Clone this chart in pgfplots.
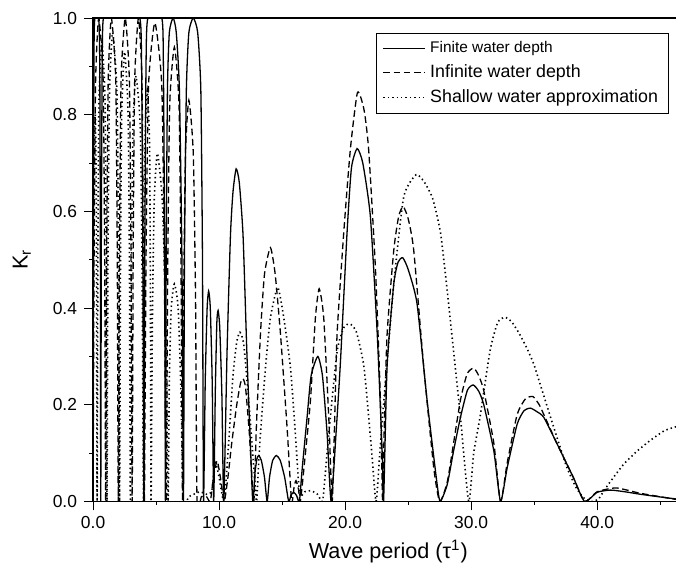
\documentclass[border=0pt]{standalone}
\usepackage{fontspec}
\setmainfont{Liberation Sans}
\usepackage{pgfplots}
\pgfplotsset{compat=1.18}
\begin{document}
\begin{tikzpicture}
\begin{axis}[
  at={(0,0)}, anchor=south west,
  scale only axis, width=291.5pt, height=241.5pt,
  xmin=0, xmax=46.3, ymin=0, ymax=1,
  xtick={0,10,20,30,40}, minor xtick={5,15,25,35,45},
  ytick={0,0.2,0.4,0.6,0.8,1}, minor ytick={0.1,0.3,0.5,0.7,0.9},
  tick align=outside, xtick pos=left, ytick pos=left,
  major tick length=4.5pt, minor tick length=1.8pt,
  tick style={black, line width=0.5pt},
  axis line style={black, line width=0.6pt},
  xticklabel style={yshift=-1.5pt, inner sep=1pt, /pgf/number format/.cd, fixed, fixed zerofill, precision=1, assume math mode=true},
  yticklabel style={/pgf/number format/.cd, fixed, fixed zerofill, precision=1, assume math mode=true},
  tick label style={font=\fontsize{8.7}{10}\selectfont},
  xlabel={Wave period (τ\textsuperscript{1})},
  ylabel={K\textsubscript{r}},
  label style={font=\fontsize{10.8}{12}\selectfont},
  xlabel style={at={(axis description cs:0.506,0)}, anchor=center, yshift=-25pt, inner sep=1pt},
  ylabel style={at={(axis description cs:-0.122,0.5)}, anchor=center, rotate=0},
  legend style={at={(0.485,0.969)}, anchor=north west, draw=black, line width=0.5pt,
    inner xsep=3pt, inner ysep=2pt, row sep=0.5pt},
  legend cell align=left,
  legend image code/.code={\draw[#1] (2pt,0pt) -- (23pt,0pt);},
  every axis plot/.append style={line width=0.65pt, black, smooth, tension=0.35},
]
\addplot[solid] coordinates {
(0,0)(0.03,0.6)(0.08,0.95)(0.15,1)(0.45,1)(0.53,0.9)(0.58,0.5)(0.61,0)(0.65,0.5)(0.72,0.9)(0.82,1)(1.5,1)(2.5,1)(3.7,1)(3.85,0.9)(3.95,0.5)(4.03,0)(4.1,0.5)(4.2,0.9)(4.35,1)(5.45,1)(5.58,0.9)(5.68,0.5)(5.74,0)(5.8,0.5)(5.9,0.85)(6.05,0.97)(6.35,1.0)(6.6,0.97)(6.85,0.85)(7.05,0.5)(7.17,0)(7.25,0.5)(7.4,0.85)(7.6,0.97)(7.95,1)(8.3,0.97)(8.55,0.85)(8.68,0.5)(8.76,0)
(8.9,0.25)(9.05,0.4)(9.17,0.435)(9.3,0.4)(9.45,0.25)(9.57,0)(9.7,0.23)(9.82,0.37)(9.92,0.395)(10.05,0.36)(10.22,0.22)(10.37,0)(10.63,0.31)(10.9,0.55)(11.1,0.64)(11.35,0.688)(11.6,0.66)(11.9,0.55)(12.2,0.31)(12.45,0.14)(12.67,0)(12.85,0.06)(13.0,0.088)(13.14,0.095)(13.35,0.085)(13.6,0.05)(13.81,0)(14.0,0.05)(14.25,0.085)(14.55,0.095)(14.85,0.085)(15.2,0.05)(15.52,0)(15.7,0.013)(15.92,0.019)(16.15,0.012)(16.37,0)(16.6,0.07)(16.98,0.174)(17.3,0.26)(17.83,0.3)(18.2,0.26)(18.57,0.14)(18.89,0)(19.3,0.15)(19.63,0.29)(20.16,0.56)(20.5,0.69)(20.95,0.73)(21.4,0.7)(22.0,0.59)(22.54,0.35)(22.94,0.1)(23.05,0)(23.33,0.28)(23.86,0.45)(24.2,0.495)(24.57,0.504)(25.0,0.48)(25.7,0.41)(26.5,0.21)(27.3,0.035)(27.55,0)(28.1,0.035)(28.6,0.104)(29.15,0.174)(29.7,0.23)(30.16,0.241)(30.6,0.228)(31.0,0.2)(31.8,0.104)(32.33,0)(32.86,0.07)(33.65,0.16)(34.2,0.188)(34.7,0.193)(35.2,0.186)(35.76,0.174)(36.8,0.12)(38.1,0.05)(39.0,0)(40.0,0.019)(41.06,0.0235)(42.2,0.02)(43.4,0.015)(44.8,0.01)(46.3,0.005)
};
\addlegendentry{\fontsize{7.7}{9}\selectfont Finite water depth}
\addplot[dash pattern=on 3.3pt off 1.8pt] coordinates {
(0,0)(0.08,0.5)(0.2,0.87)(0.45,1)(0.8,0.87)(0.92,0.5)(1.0,0)(1.08,0.5)(1.2,0.87)(1.45,1)(1.8,0.87)(1.92,0.5)(2.0,0)(2.09,0.5)(2.22,0.87)(2.55,1)(2.88,0.87)(3.01,0.5)(3.1,0)(3.18,0.5)(3.3,0.87)(3.6,1)(3.88,0.87)(3.99,0.5)(4.07,0)(4.2,0.5)(4.4,0.86)(4.9,0.99)(5.45,0.86)(5.65,0.5)(5.8,0)(5.92,0.47)(6.08,0.82)(6.45,0.94)(6.82,0.82)(6.98,0.47)(7.1,0)(7.19,0.42)(7.33,0.72)(7.6,0.83)(7.95,0.72)(8.13,0.42)(8.25,0)
(8.6,0.01)(9.0,0.01)(9.3,0)(9.55,0.05)(9.84,0.084)(10.1,0.05)(10.4,0)(10.7,0.05)(11.0,0.12)(11.4,0.2)(11.7,0.245)(11.9,0.254)(12.1,0.235)(12.4,0.14)(12.75,0)(12.95,0.15)(13.28,0.346)(13.6,0.47)(14.07,0.525)(14.45,0.47)(14.87,0.346)(15.4,0.15)(15.75,0)(15.95,0.03)(16.1,0.043)(16.3,0.025)(16.45,0)(16.85,0.1)(17.25,0.21)(17.64,0.38)(17.94,0.44)(18.3,0.38)(18.7,0.174)(18.97,0)(19.15,0.15)(19.36,0.346)(19.9,0.56)(20.42,0.73)(20.98,0.846)(21.5,0.81)(21.87,0.726)(22.4,0.484)(22.8,0.21)(22.97,0)(23.1,0.15)(23.33,0.346)(23.86,0.52)(24.25,0.59)(24.6,0.61)(25.0,0.585)(25.44,0.52)(26.24,0.277)(27.03,0.07)(27.5,0)(28.1,0.04)(28.6,0.12)(29.15,0.21)(29.68,0.264)(30.2,0.276)(30.6,0.26)(31.0,0.229)(31.8,0.12)(32.33,0)(32.86,0.08)(33.65,0.18)(34.3,0.212)(34.9,0.217)(35.4,0.2)(35.76,0.18)(36.8,0.12)(38.1,0.05)(39,0)(40,0.02)(41.5,0.028)(43.4,0.017)(46.3,0.004)
};
\addlegendentry{\fontsize{8.9}{10}\selectfont Infinite water depth}
\addplot[line width=0.8pt, dash pattern=on 0.7pt off 1.5pt] coordinates {
(0,0.3)(0.05,0.7)(0.18,0.8)(0.26,0.6)(0.32,0)(0.38,0.5)(0.47,0.83)(0.7,0.95)(0.95,0.83)(1.04,0.5)(1.1,0)(1.18,0.5)(1.3,0.84)(1.55,0.97)(1.9,0.84)(2.02,0.5)(2.1,0)(2.17,0.47)(2.27,0.8)(2.5,0.93)(2.78,0.8)(2.89,0.47)(2.96,0)(3.04,0.44)(3.16,0.77)(3.4,0.88)(3.75,0.77)(3.9,0.44)(4.0,0)(4.05,0.43)(4.12,0.74)(4.3,0.85)(4.48,0.74)(4.55,0.43)(4.6,0)(4.7,0.36)(4.85,0.62)(5.1,0.72)(5.5,0.62)(5.78,0.36)(5.95,0)(6.05,0.25)(6.2,0.4)(6.45,0.45)(6.75,0.4)(6.98,0.22)(7.15,0)
(7.6,0.01)(8.0,0.015)(8.5,0.02)(9.0,0.015)(9.4,0.02)(9.7,0.08)(10.0,0.05)(10.4,0)(10.77,0.126)(11.1,0.26)(11.4,0.33)(11.65,0.35)(11.95,0.326)(12.35,0.208)(12.75,0.07)(12.97,0)(13.1,0.06)(13.28,0.14)(13.68,0.277)(14.07,0.38)(14.65,0.443)(15.13,0.38)(15.66,0.277)(16.05,0.14)(16.3,0.04)(16.45,0.01)(16.8,0.02)(17.3,0.022)(17.8,0.015)(18.2,0.0)(18.4,0.05)(18.7,0.14)(19.36,0.31)(19.9,0.36)(20.4,0.367)(20.9,0.35)(21.5,0.277)(22.1,0.105)(22.45,0)(22.75,0.1)(23.07,0.208)(23.86,0.45)(24.65,0.63)(25.63,0.676)(26.3,0.66)(26.9,0.63)(27.3,0.59)(27.6,0.55)(28.0,0.46)(28.6,0.312)(29.15,0.174)(29.8,0)(30.2,0.1)(30.7,0.174)(31.5,0.312)(32.1,0.37)(32.67,0.381)(33.2,0.372)(33.8,0.348)(34.4,0.318)(34.97,0.284)(35.6,0.232)(36.3,0.174)(37.0,0.117)(37.6,0.07)(38.3,0.03)(38.9,0.008)(39.6,0)(40.1,0.005)(40.6,0.025)(41.3,0.05)(42.1,0.077)(43.2,0.105)(44.2,0.126)(45.3,0.146)(46.3,0.155)
};
\addlegendentry{\fontsize{8.9}{10}\selectfont Shallow water approximation}
\end{axis}
\pgfresetboundingbox
\path[use as bounding box] (-46.5pt,-34.5pt) rectangle (291.2pt,250.5pt);
\end{tikzpicture}
\end{document}
